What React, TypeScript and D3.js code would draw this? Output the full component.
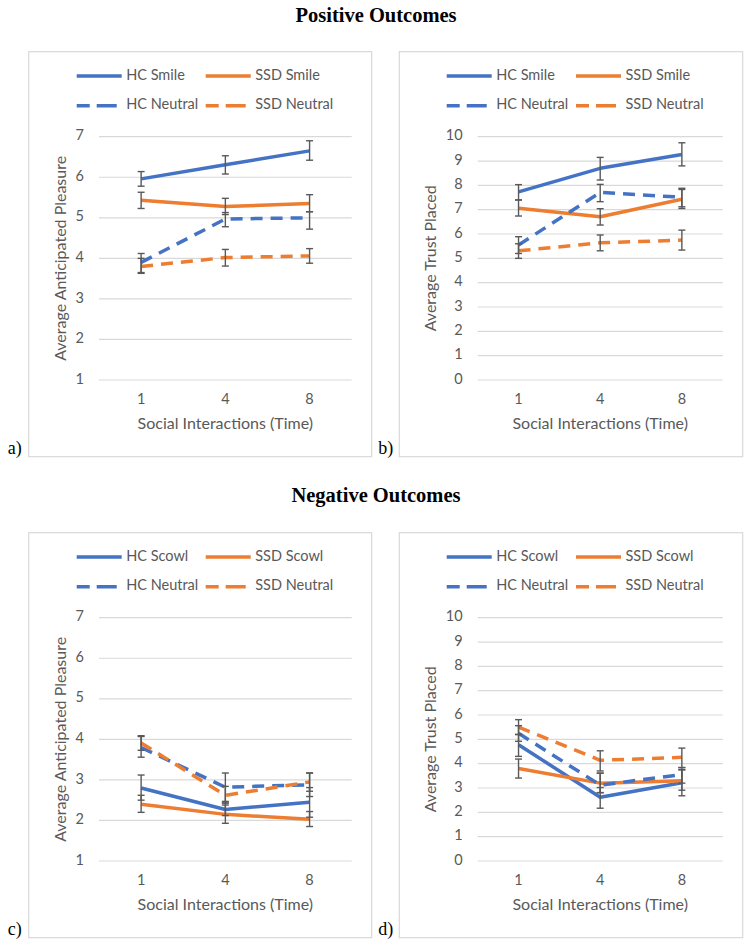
import React from "react";
import * as d3 from "d3";

const xCats = ["1", "4", "8"];
const pleasureTicks = [1, 2, 3, 4, 5, 6, 7];
const trustTicks = [0, 1, 2, 3, 4, 5, 6, 7, 8, 9, 10];

// Panel a: Positive, Anticipated Pleasure
const aHCSmile = [5.96, 6.31, 6.65];
const aHCSmileLo = [5.78, 6.08, 6.42];
const aHCSmileHi = [6.14, 6.53, 6.9];
const aSSDSmile = [5.43, 5.28, 5.35];
const aSSDSmileLo = [5.23, 5.08, 5.15];
const aSSDSmileHi = [5.63, 5.48, 5.57];
const aHCNeutral = [3.9, 4.97, 5.0];
const aHCNeutralLo = [3.65, 4.78, 4.72];
const aHCNeutralHi = [4.12, 5.13, 5.15];
const aSSDNeutral = [3.8, 4.02, 4.06];
const aSSDNeutralLo = [3.63, 3.81, 3.88];
const aSSDNeutralHi = [4.0, 4.22, 4.24];

// Panel b: Positive, Trust Placed
const bHCSmile = [7.73, 8.7, 9.27];
const bHCSmileLo = [7.4, 8.22, 8.8];
const bHCSmileHi = [8.03, 9.15, 9.75];
const bSSDSmile = [7.06, 6.71, 7.43];
const bSSDSmileLo = [6.74, 6.37, 7.05];
const bSSDSmileHi = [7.4, 7.04, 7.83];
const bHCNeutral = [5.55, 7.71, 7.51];
const bHCNeutralLo = [5.2, 7.33, 7.12];
const bHCNeutralHi = [5.89, 8.04, 7.88];
const bSSDNeutral = [5.31, 5.64, 5.75];
const bSSDNeutralLo = [5.0, 5.31, 5.34];
const bSSDNeutralHi = [5.6, 5.96, 6.16];

// Panel c: Negative, Anticipated Pleasure
const cHCScowl = [2.8, 2.27, 2.45];
const cHCScowlLo = [2.5, 2.12, 2.08];
const cHCScowlHi = [3.12, 2.43, 2.81];
const cSSDScowl = [2.4, 2.15, 2.03];
const cSSDScowlLo = [2.2, 1.93, 1.85];
const cSSDScowlHi = [2.62, 2.38, 2.22];
const cHCNeutral = [3.8, 2.82, 2.88];
const cHCNeutralLo = [3.56, 2.47, 2.59];
const cHCNeutralHi = [4.07, 3.17, 3.17];
const cSSDNeutral = [3.91, 2.62, 2.95];
const cSSDNeutralLo = [3.73, 2.43, 2.72];
const cSSDNeutralHi = [4.09, 2.84, 3.17];

// Panel d: Negative, Trust Placed
const dHCScowl = [4.78, 2.62, 3.22];
const dHCScowlLo = [4.3, 2.17, 2.68];
const dHCScowlHi = [5.2, 3.02, 3.75];
const dSSDScowl = [3.8, 3.2, 3.3];
const dSSDScowlLo = [3.41, 2.81, 2.91];
const dSSDScowlHi = [4.19, 3.61, 3.75];
const dHCNeutral = [5.25, 3.12, 3.55];
const dHCNeutralLo = [4.92, 2.81, 3.2];
const dHCNeutralHi = [5.56, 3.61, 3.84];
const dSSDNeutral = [5.5, 4.14, 4.26];
const dSSDNeutralLo = [5.2, 3.7, 3.84];
const dSSDNeutralHi = [5.81, 4.53, 4.64];

const BLUE = "#4472C4";
const ORANGE = "#ED7D31";
const GRAY_TEXT = "#595959";
const GRID = "#D9D9D9";
const SANS = "Lato, 'Open Sans', sans-serif";
const SERIF = "'Liberation Serif', 'Times New Roman', serif";

type Series = { name: string; color: string; dashed: boolean; v: number[]; lo: number[]; hi: number[] };

type PanelProps = {
  letter: string;
  frame: [number, number, number, number]; // x, y, w, h
  plotX: [number, number];
  plotY: [number, number]; // bottom, top
  domain: [number, number];
  ticks: number[];
  yTitle: string;
  legendX: [number, number];
  legendY: [number, number];
  yTitleX: number;
  series: Series[];
};

function Panel(p: PanelProps) {
  const x = d3.scalePoint<string>().domain(xCats).range(p.plotX).padding(0.5);
  const y = d3.scaleLinear().domain(p.domain).range(p.plotY);
  const line = d3
    .line<number>()
    .x((_, i) => x(xCats[i]) as number)
    .y((d) => y(d));
  const [fx, fy, fw, fh] = p.frame;
  const midX = (p.plotX[0] + p.plotX[1]) / 2;
  const midY = (p.plotY[0] + p.plotY[1]) / 2;
  const legendLen = 45;
  return (
    <g>
      <rect x={fx} y={fy} width={fw} height={fh} fill="white" stroke={GRID} strokeWidth={1.2} />
      {p.ticks.map((t) => (
        <g key={t}>
          <line x1={p.plotX[0]} x2={p.plotX[1]} y1={y(t)} y2={y(t)} stroke={GRID} strokeWidth={1.2} />
          <text
            x={p.plotX[0] - 15}
            y={y(t)}
            textAnchor="end"
            dominantBaseline="middle"
            fontFamily={SANS}
            fontSize={14.5}
            fill={GRAY_TEXT}
          >
            {t}
          </text>
        </g>
      ))}
      {xCats.map((c) => (
        <text
          key={c}
          x={x(c)}
          y={p.plotY[0] + 20}
          textAnchor="middle"
          dominantBaseline="middle"
          fontFamily={SANS}
          fontSize={14.5}
          fill={GRAY_TEXT}
        >
          {c}
        </text>
      ))}
      <text
        x={midX}
        y={p.plotY[0] + 45}
        textAnchor="middle"
        dominantBaseline="middle"
        fontFamily={SANS}
        fontSize={16}
        fill={GRAY_TEXT}
      >
        Social Interactions (Time)
      </text>
      <text
        transform={`translate(${p.yTitleX},${midY}) rotate(-90)`}
        textAnchor="middle"
        dominantBaseline="middle"
        fontFamily={SANS}
        fontSize={16}
        fill={GRAY_TEXT}
      >
        {p.yTitle}
      </text>
      {p.series.map((s) => (
        <path
          key={s.name}
          d={line(s.v) || ""}
          fill="none"
          stroke={s.color}
          strokeWidth={3.5}
          strokeDasharray={s.dashed ? "12,8" : undefined}
          strokeLinejoin="round"
        />
      ))}
      {p.series.map((s) =>
        s.v.map((_, i) => {
          const cx = x(xCats[i]) as number;
          return (
            <g key={s.name + i} stroke="#595959" strokeWidth={1.4}>
              <line x1={cx} x2={cx} y1={y(s.lo[i])} y2={y(s.hi[i])} />
              <line x1={cx - 3.5} x2={cx + 3.5} y1={y(s.lo[i])} y2={y(s.lo[i])} />
              <line x1={cx - 3.5} x2={cx + 3.5} y1={y(s.hi[i])} y2={y(s.hi[i])} />
            </g>
          );
        })
      )}
      {p.series.map((s, i) => {
        const col = i % 2;
        const row = Math.floor(i / 2);
        const lx = p.legendX[col];
        const ly = p.legendY[row];
        return (
          <g key={"lg" + s.name}>
            <line
              x1={lx}
              x2={lx + legendLen}
              y1={ly}
              y2={ly}
              stroke={s.color}
              strokeWidth={3.5}
              strokeDasharray={s.dashed ? "13,7,20,5" : undefined}
            />
            <text
              x={lx + legendLen + 4.5}
              y={ly}
              dominantBaseline="middle"
              fontFamily={SANS}
              fontSize={14.5}
              fill={GRAY_TEXT}
            >
              {s.name}
            </text>
          </g>
        );
      })}
      <text x={fx - 21} y={fy + fh - 3} fontFamily={SERIF} fontSize={18} fill="#000">
        {p.letter}
      </text>
    </g>
  );
}

function mk(name: string, color: string, dashed: boolean, v: number[], lo: number[], hi: number[]): Series {
  return { name, color, dashed, v, lo, hi };
}

export default function App() {
  const off = 481;
  return (
    <svg
      width={751}
      height={950}
      style={{ position: "absolute", left: 0, top: 0, background: "white" }}
    >
      <rect x={0} y={0} width={751} height={950} fill="white" />
      <text x={376} y={17} textAnchor="middle" dominantBaseline="middle" fontFamily={SERIF} fontWeight="bold" fontSize={20.5}>
        Positive Outcomes
      </text>
      <text x={376} y={497} textAnchor="middle" dominantBaseline="middle" fontFamily={SERIF} fontWeight="bold" fontSize={20.5}>
        Negative Outcomes
      </text>
      <Panel
        letter="a)"
        frame={[28.7, 51.7, 343, 405]}
        plotX={[99, 351.7]}
        plotY={[380, 136.7]}
        domain={[1, 7]}
        ticks={pleasureTicks}
        yTitle="Average Anticipated Pleasure"
        yTitleX={62}
        legendX={[76.7, 205.7]}
        legendY={[76, 105.7]}
        series={[
          mk("HC Smile", BLUE, false, aHCSmile, aHCSmileLo, aHCSmileHi),
          mk("SSD Smile", ORANGE, false, aSSDSmile, aSSDSmileLo, aSSDSmileHi),
          mk("HC Neutral", BLUE, true, aHCNeutral, aHCNeutralLo, aHCNeutralHi),
          mk("SSD Neutral", ORANGE, true, aSSDNeutral, aSSDNeutralLo, aSSDNeutralHi),
        ]}
      />
      <Panel
        letter="b)"
        frame={[399.3, 51.7, 343.4, 405]}
        plotX={[477.7, 722.7]}
        plotY={[380, 136.7]}
        domain={[0, 10]}
        ticks={trustTicks}
        yTitle="Average Trust Placed"
        yTitleX={432}
        legendX={[446.7, 576]}
        legendY={[76, 105.7]}
        series={[
          mk("HC Smile", BLUE, false, bHCSmile, bHCSmileLo, bHCSmileHi),
          mk("SSD Smile", ORANGE, false, bSSDSmile, bSSDSmileLo, bSSDSmileHi),
          mk("HC Neutral", BLUE, true, bHCNeutral, bHCNeutralLo, bHCNeutralHi),
          mk("SSD Neutral", ORANGE, true, bSSDNeutral, bSSDNeutralLo, bSSDNeutralHi),
        ]}
      />
      <Panel
        letter="c)"
        frame={[28.7, 51.7 + off, 343, 405]}
        plotX={[99, 351.7]}
        plotY={[380 + off, 136.7 + off]}
        domain={[1, 7]}
        ticks={pleasureTicks}
        yTitle="Average Anticipated Pleasure"
        yTitleX={62}
        legendX={[76.7, 205.7]}
        legendY={[76 + off, 105.7 + off]}
        series={[
          mk("HC Scowl", BLUE, false, cHCScowl, cHCScowlLo, cHCScowlHi),
          mk("SSD Scowl", ORANGE, false, cSSDScowl, cSSDScowlLo, cSSDScowlHi),
          mk("HC Neutral", BLUE, true, cHCNeutral, cHCNeutralLo, cHCNeutralHi),
          mk("SSD Neutral", ORANGE, true, cSSDNeutral, cSSDNeutralLo, cSSDNeutralHi),
        ]}
      />
      <Panel
        letter="d)"
        frame={[399.3, 51.7 + off, 343.4, 405]}
        plotX={[477.7, 722.7]}
        plotY={[380 + off, 136.7 + off]}
        domain={[0, 10]}
        ticks={trustTicks}
        yTitle="Average Trust Placed"
        yTitleX={432}
        legendX={[446.7, 576]}
        legendY={[76 + off, 105.7 + off]}
        series={[
          mk("HC Scowl", BLUE, false, dHCScowl, dHCScowlLo, dHCScowlHi),
          mk("SSD Scowl", ORANGE, false, dSSDScowl, dSSDScowlLo, dSSDScowlHi),
          mk("HC Neutral", BLUE, true, dHCNeutral, dHCNeutralLo, dHCNeutralHi),
          mk("SSD Neutral", ORANGE, true, dSSDNeutral, dSSDNeutralLo, dSSDNeutralHi),
        ]}
      />
    </svg>
  );
}
